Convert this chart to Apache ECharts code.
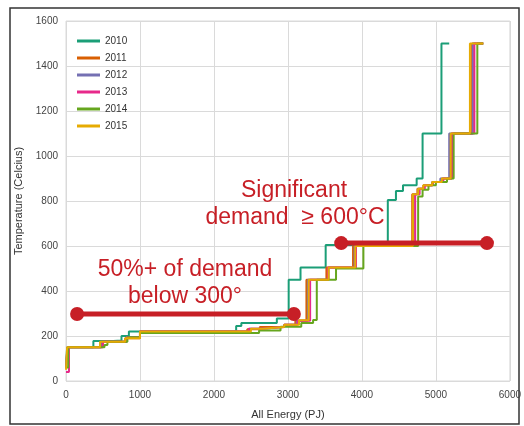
<!DOCTYPE html>
<html>
<head>
<meta charset="utf-8">
<script src="https://cdn.jsdelivr.net/npm/echarts@6/dist/echarts.min.js"></script>
<style>
html, body { margin: 0; padding: 0; background: #fff; }
#main { width: 524px; height: 426px; }
</style>
</head>
<body>
<div id="main"></div>
<script>
var years = ['2010', '2011', '2012', '2013', '2014', '2015'];
var colors = ['#1b9e77', '#d95f02', '#7570b3', '#e7298a', '#66a61e', '#e6ab02'];

// [energy PJ where the step starts, temperature]
var s2010 = [[0, 60], [15, 150], [370, 178], [640, 180], [750, 200], [850, 220], [2300, 245], [2370, 258], [2850, 278], [3010, 450], [3170, 505], [3510, 605], [4350, 805], [4460, 845], [4555, 870], [4740, 900], [4820, 1100], [5075, 1500], [5180, 1500]];
var s2011 = [[0, 60], [20, 150], [480, 175], [800, 190], [1000, 220], [2450, 230], [2620, 240], [2950, 250], [3100, 268], [3250, 450], [3520, 505], [3880, 600], [4680, 830], [4750, 855], [4830, 870], [4950, 885], [5080, 900], [5210, 1100], [5490, 1500], [5640, 1500]];
var s2012 = [[0, 60], [20, 150], [470, 175], [820, 195], [1000, 220], [2480, 232], [2650, 240], [2950, 250], [3120, 268], [3270, 450], [3550, 505], [3900, 600], [4700, 830], [4760, 855], [4840, 870], [4950, 885], [5060, 900], [5180, 1100], [5500, 1500], [5640, 1500]];
var s2013 = [[0, 40], [40, 150], [500, 175], [820, 195], [1000, 220], [2470, 232], [2650, 240], [2950, 250], [3130, 268], [3300, 450], [3540, 505], [3920, 600], [4720, 830], [4780, 855], [4850, 870], [4960, 885], [5100, 900], [5220, 1100], [5520, 1500], [5640, 1500]];
var s2014 = [[0, 60], [30, 150], [520, 160], [560, 175], [830, 195], [1000, 213], [2610, 224], [2900, 241], [3180, 258], [3340, 271], [3390, 450], [3650, 500], [4020, 600], [4760, 820], [4820, 850], [4900, 870], [5000, 885], [5150, 900], [5240, 1100], [5560, 1500], [5640, 1500]];
var s2015 = [[0, 50], [15, 150], [460, 175], [800, 190], [1000, 220], [2500, 232], [2650, 240], [2950, 250], [3150, 270], [3280, 450], [3550, 505], [3910, 600], [4690, 830], [4760, 855], [4830, 870], [4950, 885], [5080, 900], [5200, 1100], [5460, 1500], [5640, 1500]];
var seriesData = [s2010, s2011, s2012, s2013, s2014, s2015];

// red annotation bars
var below300 = [[150, 298], [3080, 298]];
var above600 = [[3720, 613], [5690, 613]];

var xTicks = [0, 1000, 2000, 3000, 4000, 5000, 6000];
var yTicks = [0, 200, 400, 600, 800, 1000, 1200, 1400, 1600];

var red = '#c71f26';
var font = 'Liberation Sans';

var myChart = echarts.init(document.getElementById('main'));

var series = years.map(function (y, i) {
    return {
        name: y,
        type: 'line',
        step: 'end',
        data: seriesData[i],
        showSymbol: false,
        symbol: 'none',
        lineStyle: { width: 2, color: colors[i] },
        itemStyle: { color: colors[i] },
        z: 2 + i
    };
});

[below300, above600].forEach(function (d) {
    series.push({
        name: 'note',
        type: 'line',
        data: d,
        symbol: 'circle',
        symbolSize: 14,
        lineStyle: { width: 5, color: red },
        itemStyle: { color: red },
        z: 20
    });
});

var option = {
    animation: false,
    textStyle: { fontFamily: font },
    color: colors,
    grid: {
        left: 66,
        right: 11,
        top: 21,
        bottom: 45,
        show: true,
        borderColor: '#dadada',
        borderWidth: 1
    },
    legend: {
        data: years,
        orient: 'vertical',
        left: 72,
        top: 29,
        icon: 'rect',
        itemWidth: 23,
        itemHeight: 3,
        itemGap: 3,
        textStyle: { fontSize: 10, color: '#333', lineHeight: 14, fontFamily: font }
    },
    xAxis: {
        type: 'value',
        min: 0,
        max: 6000,
        interval: 1000,
        name: 'All Energy (PJ)',
        nameLocation: 'middle',
        nameGap: 28,
        nameTextStyle: { fontSize: 11, color: '#333' },
        axisLine: { show: false },
        axisTick: { show: false },
        axisLabel: {
            fontSize: 10, color: '#444', margin: 9,
            formatter: function (v) { return xTicks.indexOf(v) >= 0 ? String(v) : ''; }
        },
        splitLine: { lineStyle: { color: '#dadada', width: 1 } }
    },
    yAxis: {
        type: 'value',
        min: 0,
        max: 1600,
        interval: 200,
        name: 'Temperature (Celcius)',
        nameLocation: 'middle',
        nameGap: 36,
        nameTextStyle: { fontSize: 11, color: '#333' },
        axisLine: { show: false },
        axisTick: { show: false },
        axisLabel: {
            fontSize: 10, color: '#444', margin: 8,
            formatter: function (v) { return yTicks.indexOf(v) >= 0 ? String(v) : ''; }
        },
        splitLine: { lineStyle: { color: '#dadada', width: 1 } }
    },
    graphic: [
        {
            type: 'rect',
            shape: { x: 10, y: 8, width: 509, height: 416 },
            style: { fill: 'none', stroke: '#333', lineWidth: 1.5 },
            silent: true
        },
        {
            type: 'text', x: 294, y: 191, z: 30,
            style: { text: 'Significant', fill: red, font: '23px ' + font, textAlign: 'center', textVerticalAlign: 'middle' }
        },
        {
            type: 'text', x: 295, y: 218, z: 30,
            style: { text: 'demand  \u2265 600\u00b0C', fill: red, font: '23px ' + font, textAlign: 'center', textVerticalAlign: 'middle' }
        },
        {
            type: 'text', x: 185, y: 270, z: 30,
            style: { text: '50%+ of demand', fill: red, font: '23px ' + font, textAlign: 'center', textVerticalAlign: 'middle' }
        },
        {
            type: 'text', x: 185, y: 297, z: 30,
            style: { text: 'below 300\u00b0', fill: red, font: '23px ' + font, textAlign: 'center', textVerticalAlign: 'middle' }
        }
    ],
    series: series
};

myChart.setOption(option);
</script>
</body>
</html>
